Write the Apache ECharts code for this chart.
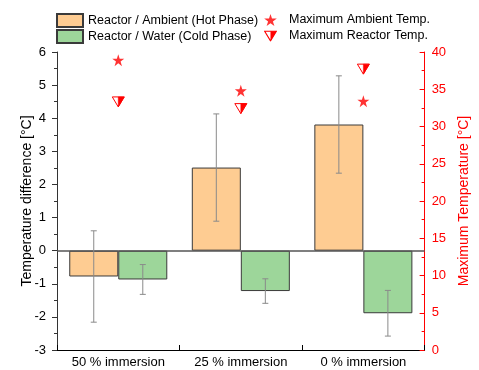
<!DOCTYPE html>
<html><head><meta charset="utf-8">
<script src="https://cdn.jsdelivr.net/npm/echarts@6/dist/echarts.min.js"></script>
<style>html,body{margin:0;padding:0;background:#fff}#c{width:479px;height:370px}</style>
</head><body><div id="c"></div>
<script>
var categories = ['50 % immersion', '25 % immersion', '0 % immersion'];
var hotDiff = [-0.78, 2.51, 3.81];
var hotErr = [1.38, 1.62, 1.47];
var coldDiff = [-0.87, -1.22, -1.89];
var coldErr = [0.45, 0.37, 0.69];
var maxAmbient = [38.9, 34.8, 33.4];
var maxReactor = [33.3, 32.4, 37.7];
var seriesNames = ['Reactor / Ambient (Hot Phase)', 'Reactor / Water (Cold Phase)', 'Maximum Ambient Temp.', 'Maximum Reactor Temp.'];

var FONT = "Arial, 'Liberation Sans', sans-serif";
var STAR = 'path://M50,0 L61.2,34.5 L97.6,34.5 L68.2,55.9 L79.4,90.5 L50,69.1 L20.6,90.5 L31.8,55.9 L2.4,34.5 L38.8,34.5 Z';
var triSvg = "<svg xmlns='http://www.w3.org/2000/svg' width='24' height='20'><polygon points='1,1 23,1 12,19' fill='white' stroke='red' stroke-width='2'/><polygon points='12,1 23,1 12,19' fill='red'/></svg>";
var TRI_IMG = 'image://data:image/svg+xml;charset=utf-8,' + encodeURIComponent(triSvg);

function errData(vals, errs) {
  return vals.map(function (v, i) { return [i, v, errs[i]]; });
}
function errRender(sign) {
  return function (params, api) {
    var i = api.value(0), v = api.value(1), e = api.value(2);
    var c = api.coord([i, v]);
    var band = api.size([1, 0])[0];
    var x = c[0] + sign * band * 0.2;
    var top = api.coord([i, v + e])[1];
    var bot = api.coord([i, v - e])[1];
    var cap = 3;
    var st = { stroke: '#8a8a8a', lineWidth: 1 };
    return { type: 'group', children: [
      { type: 'line', shape: { x1: x, y1: top, x2: x, y2: bot }, style: st },
      { type: 'line', shape: { x1: x - cap, y1: top, x2: x + cap, y2: top }, style: st },
      { type: 'line', shape: { x1: x - cap, y1: bot, x2: x + cap, y2: bot }, style: st }
    ]};
  };
}
function triRender(params, api) {
  var c = api.coord([api.value(0), api.value(1)]);
  var x = c[0], y = c[1], w = 6, h = 5;
  return { type: 'group', children: [
    { type: 'polygon', shape: { points: [[x - w, y - h], [x + w, y - h], [x, y + h]] }, style: { fill: '#fff', stroke: '#ff0000', lineWidth: 1 } },
    { type: 'polygon', shape: { points: [[x, y - h], [x + w, y - h], [x, y + h]] }, style: { fill: '#ff0000', stroke: '#ff0000', lineWidth: 0.5 } }
  ]};
}

var chart = echarts.init(document.getElementById('c'), null, { renderer: 'canvas' });
chart.setOption({
  animation: false,
  textStyle: { fontFamily: FONT },
  grid: { left: 57, right: 52, top: 52, bottom: 20, containLabel: false },
  legend: [
    { data: [seriesNames[0], seriesNames[1]], orient: 'vertical', left: 56, top: 13,
      itemWidth: 26, itemHeight: 13, itemGap: 1, icon: 'rect', padding: 0,
      textStyle: { fontFamily: FONT, fontSize: 12.5, color: '#000', lineHeight: 14 } },
    { data: [{ name: seriesNames[2], icon: STAR }, { name: seriesNames[3], icon: TRI_IMG }],
      orient: 'vertical', left: 264, top: 13, itemWidth: 13, itemHeight: 12, itemGap: 2, padding: 0,
      textStyle: { fontFamily: FONT, fontSize: 12.5, color: '#000', lineHeight: 14, padding: [0, 0, 0, 7] } }
  ],
  xAxis: {
    type: 'category', data: categories, boundaryGap: true,
    axisLine: { onZero: false, lineStyle: { color: '#000', width: 1 } },
    axisTick: { show: true, inside: true, length: 5, lineStyle: { color: '#000' } },
    axisLabel: { color: '#000', fontSize: 13, margin: 6, fontFamily: FONT },
    splitLine: { show: false }
  },
  yAxis: [
    { type: 'value', min: -3, max: 6, interval: 1, position: 'left',
      name: 'Temperature difference [°C]', nameLocation: 'middle', nameGap: 23, nameMoveOverlap: false,
      nameTextStyle: { color: '#000', fontSize: 14, fontFamily: FONT },
      axisLine: { show: true, lineStyle: { color: '#333', width: 1 } },
      axisTick: { show: true, inside: false, length: 5, lineStyle: { color: '#333' } },
      minorTick: { show: true, splitNumber: 2, length: 3, lineStyle: { color: '#333' } },
      axisLabel: { color: '#000', fontSize: 13, margin: 11, fontFamily: FONT },
      splitLine: { show: false } },
    { type: 'value', min: 0, max: 40, interval: 5, position: 'right',
      name: 'Maximum Temperature [°C]', nameLocation: 'middle', nameGap: 25,
      nameTextStyle: { color: '#ff0000', fontSize: 14, fontFamily: FONT },
      axisLine: { show: true, lineStyle: { color: '#ff0000', width: 1 } },
      axisTick: { show: true, inside: true, length: 5, lineStyle: { color: '#ff0000' } },
      minorTick: { show: true, splitNumber: 2, length: 3, lineStyle: { color: '#ff0000' } },
      axisLabel: { color: '#ff0000', fontSize: 13, margin: 7, fontFamily: FONT },
      splitLine: { show: false } }
  ],
  series: [
    { name: seriesNames[0], type: 'bar', data: hotDiff, barGap: '0%', barCategoryGap: '20%',
      itemStyle: { color: '#FECC92', borderColor: '#3a3a3a', borderWidth: 1 },
      markLine: { silent: true, symbol: 'none', label: { show: false },
        lineStyle: { color: '#555', width: 1.5, type: 'solid' }, data: [{ yAxis: 0 }] } },
    { name: seriesNames[1], type: 'bar', data: coldDiff,
      itemStyle: { color: '#9DD69A', borderColor: '#3a3a3a', borderWidth: 1 } },
    { type: 'custom', name: 'hotErr', data: errData(hotDiff, hotErr), renderItem: errRender(-1), z: 5, silent: true },
    { type: 'custom', name: 'coldErr', data: errData(coldDiff, coldErr), renderItem: errRender(1), z: 5, silent: true },
    { name: seriesNames[2], type: 'scatter', yAxisIndex: 1, symbol: STAR, symbolSize: 12,
      data: maxAmbient.map(function (v, i) { return [i, v]; }), itemStyle: { color: '#ff0000' }, z: 6 },
    { name: seriesNames[3], type: 'custom', yAxisIndex: 1, renderItem: triRender,
      data: maxReactor.map(function (v, i) { return [i, v]; }), itemStyle: { color: '#ff0000' }, z: 6 }
  ]
});
</script></body></html>
